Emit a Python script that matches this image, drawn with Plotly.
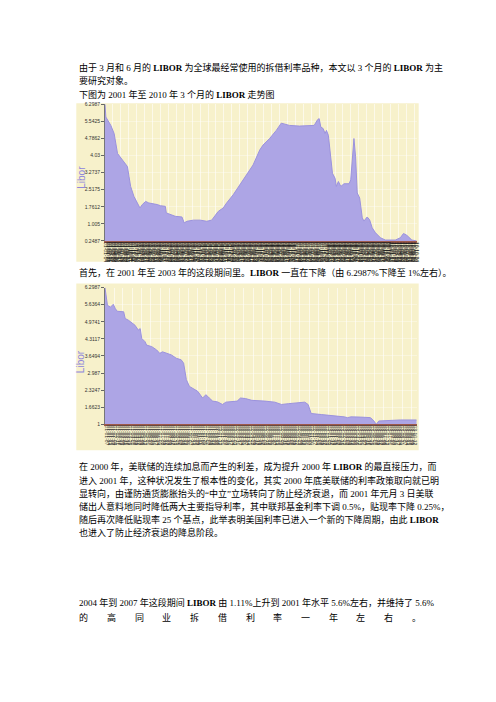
import plotly.graph_objects as go

# ---------------- data ----------------
libor_2001_2010_dates = [
    "2001-01-02", "2001-01-12", "2001-03-10", "2001-04-17", "2001-05-26", "2001-07-22",
    "2001-09-17", "2001-10-05", "2001-10-24", "2001-12-01", "2002-01-09", "2002-02-08",
    "2002-03-07", "2002-04-14", "2002-05-21", "2002-07-17", "2002-08-25", "2002-10-01",
    "2002-11-27", "2002-12-08", "2003-01-23", "2003-03-21", "2003-06-06", "2003-07-02",
    "2003-08-02", "2003-10-16", "2004-01-01", "2004-03-17", "2004-05-13", "2004-06-20",
    "2004-07-28", "2004-09-23", "2004-11-01", "2005-01-15", "2005-04-01", "2005-06-17",
    "2005-09-01", "2005-11-16", "2005-12-24", "2006-03-10", "2006-05-26", "2006-07-22",
    "2006-08-28", "2006-10-24", "2007-02-15", "2007-06-09", "2007-08-05", "2007-09-12",
    "2007-10-01", "2007-10-20", "2007-11-16", "2007-12-08", "2007-12-24", "2008-01-15",
    "2008-02-04", "2008-03-02", "2008-04-01", "2008-04-16", "2008-05-09", "2008-06-06",
    "2008-07-13", "2008-09-09", "2008-09-28", "2008-10-16", "2008-11-04", "2008-11-23",
    "2008-12-12", "2009-01-09", "2009-02-08", "2009-02-27", "2009-04-05", "2009-05-03",
    "2009-06-02", "2009-07-10", "2009-09-05", "2009-11-01", "2010-02-23", "2010-04-21",
    "2010-05-28", "2010-07-05", "2010-09-01", "2010-10-27",
]
libor_2001_2010_values = [
    6.2987, 5.73, 5.36, 5.00, 4.12, 3.83,
    3.54, 3.10, 2.66, 2.22, 1.93, 1.71,
    1.86, 2.00, 1.93, 1.90, 1.86, 1.81,
    1.78, 1.49, 1.42, 1.34, 1.31, 1.05,
    1.12, 1.17, 1.17, 1.12, 1.17, 1.34,
    1.56, 1.71, 1.93, 2.29, 2.73, 3.17,
    3.61, 4.27, 4.49, 4.78, 5.14, 5.46,
    5.43, 5.36, 5.33, 5.33, 5.36, 5.61,
    5.66, 5.29, 5.22, 5.00, 5.14, 4.92,
    4.27, 3.24, 3.02, 2.66, 2.88, 2.66,
    2.78, 2.78, 2.95, 3.97, 4.78, 3.97,
    2.37, 2.15, 1.27, 1.13, 1.31, 1.19,
    0.83, 0.61, 0.39, 0.29, 0.29, 0.39,
    0.58, 0.50, 0.29, 0.2487,
]

libor_2001_2003_dates = [
    "2001-01-02", "2001-01-06", "2001-01-10", "2001-01-20", "2001-01-29", "2001-02-05",
    "2001-02-11", "2001-03-04", "2001-03-09", "2001-03-20", "2001-03-31", "2001-04-10",
    "2001-04-21", "2001-04-27", "2001-05-02", "2001-05-13", "2001-05-18", "2001-06-04",
    "2001-06-20", "2001-06-30", "2001-07-09", "2001-07-22", "2001-08-07", "2001-08-23",
    "2001-09-08", "2001-09-16", "2001-09-25", "2001-10-05", "2001-10-21", "2001-11-01",
    "2001-11-17", "2001-11-28", "2001-12-09", "2001-12-20", "2002-01-05", "2002-01-21",
    "2002-02-01", "2002-02-22", "2002-03-10", "2002-03-21", "2002-04-06", "2002-04-27",
    "2002-05-19", "2002-06-09", "2002-07-11", "2002-08-02", "2002-08-24", "2002-09-25",
    "2002-10-17", "2002-10-28", "2002-11-07", "2002-12-10", "2003-01-11", "2003-02-02",
    "2003-02-23", "2003-03-06", "2003-03-17", "2003-04-18", "2003-05-20", "2003-05-31",
    "2003-06-08", "2003-06-16", "2003-07-13", "2003-08-25", "2003-10-18",
]
libor_2001_2003_values = [
    6.2987, 6.00, 5.61, 5.54, 5.65, 5.48,
    5.38, 5.36, 5.10, 5.03, 4.91, 4.84,
    4.65, 4.71, 4.33, 4.20, 4.07, 4.01,
    3.88, 3.75, 3.81, 3.75, 3.69, 3.56,
    3.50, 3.37, 2.73, 2.47, 2.37, 2.28,
    2.02, 2.15, 2.02, 1.90, 1.87, 1.77,
    1.86, 1.87, 1.90, 2.02, 2.00, 1.93,
    1.90, 1.90, 1.86, 1.77, 1.80, 1.83,
    1.86, 1.77, 1.42, 1.38, 1.35, 1.32,
    1.29, 1.26, 1.29, 1.28, 1.26, 1.13,
    1.00, 1.13, 1.15, 1.17, 1.17,
]

chart1_ytick_values = [0.2487, 1.005, 1.7612, 2.5175, 3.2737, 4.03, 4.7862, 5.5425, 6.2987]
chart1_ytick_labels = ["0.2487", "1.005", "1.7612", "2.5175", "3.2737", "4.03", "4.7862", "5.5425", "6.2987"]
chart2_ytick_values = [1, 1.6623, 2.3247, 2.987, 3.6494, 4.3117, 4.9741, 5.6364, 6.2987]
chart2_ytick_labels = ["1", "1.6623", "2.3247", "2.987", "3.6494", "4.3117", "4.9741", "5.6364", "6.2987"]
y_axis_title = "Libor"

intro_lines = [
    "由于 3 月和 6 月的 <b>LIBOR</b> 为全球最经常使用的拆借利率品种，本文以 3 个月的 <b>LIBOR</b> 为主",
    "要研究对象。",
    "下图为 2001 年至 2010 年 3 个月的 <b>LIBOR</b> 走势图",
]
caption_line = "首先，在 2001 年至 2003 年的这段期间里。<b>LIBOR</b> 一直在下降（由 6.2987%下降至 1%左右）。"
paragraph_lines = [
    "在 2000 年，美联储的连续加息而产生的利差，成为提升 2000 年 <b>LIBOR</b> 的最直接压力，而",
    "进入 2001 年，这种状况发生了根本性的变化，其实 2000 年底美联储的利率政策取向就已明",
    "显转向，由谨防通货膨胀抬头的“中立”立场转向了防止经济衰退，而 2001 年元月 3 日美联",
    "储出人意料地同时降低两大主要指导利率，其中联邦基金利率下调 0.5%，贴现率下降 0.25%，",
    "随后再次降低贴现率 25 个基点，此举表明美国利率已进入一个新的下降周期，由此 <b>LIBOR</b>",
    "也进入了防止经济衰退的降息阶段。",
]
last_line = "2004 年到 2007 年这段期间 <b>LIBOR</b> 由 1.11%上升到 2001 年水平 5.6%左右，并维持了 5.6%"
justified_chars = list("的高同业拆借利率一年左右。")

# ---------------- geometry helpers (page pixels -> paper) ----------------
W, H, OFF = 480, 686, 8


def fx(x):
    return (x - OFF) / W


def fy(y):
    return 1 - (y - OFF) / H


BEIGE = "#F7F1CB"
AREA = "#ADA5E5"
AREA_LINE = "#9B92DD"
AXIS_RED = "#9E5A4C"
TEXT_FONT = "Liberation Serif, Noto Sans CJK SC, sans-serif"

fig = go.Figure()

# chart 1 (2001-2010)
fig.add_trace(go.Scatter(x=libor_2001_2010_dates, y=libor_2001_2010_values, mode="lines",
                         fill="tozeroy", fillcolor=AREA, line=dict(color=AREA_LINE, width=1),
                         xaxis="x", yaxis="y", hoverinfo="skip", showlegend=False))
fig.add_trace(go.Scatter(x=libor_2001_2010_dates, y=libor_2001_2010_values, mode="lines",
                         line=dict(color="rgba(0,0,0,0)", width=0),
                         xaxis="x3", yaxis="y", hoverinfo="skip", showlegend=False))
# chart 2 (2001-2003)
fig.add_trace(go.Scatter(x=libor_2001_2003_dates, y=libor_2001_2003_values, mode="lines",
                         fill="tozeroy", fillcolor=AREA, line=dict(color=AREA_LINE, width=1),
                         xaxis="x2", yaxis="y2", hoverinfo="skip", showlegend=False))
fig.add_trace(go.Scatter(x=libor_2001_2003_dates, y=libor_2001_2003_values, mode="lines",
                         line=dict(color="rgba(0,0,0,0)", width=0),
                         xaxis="x4", yaxis="y2", hoverinfo="skip", showlegend=False))

grid_white = "rgba(255,255,255,0.6)"


def main_x(domain, rng, dtick):
    return dict(domain=domain, type="date", range=rng, showgrid=True, gridcolor=grid_white,
                gridwidth=1, dtick=dtick, showticklabels=False, ticks="", zeroline=False,
                showline=True, linecolor=AXIS_RED, linewidth=2, fixedrange=True)


def label_x(over, anchor, rng, dtick, size, color):
    return dict(overlaying=over, anchor=anchor, side="bottom", type="date", range=rng,
                showgrid=False, showline=False, zeroline=False, ticks="", dtick=dtick,
                tickformat="%y-%m-%d", tickangle=90,
                tickfont=dict(size=size, color=color, family="Arial"), fixedrange=True)


def y_ax(domain, rng, vals, labels):
    return dict(domain=domain, range=rng, tickmode="array", tickvals=vals, ticktext=labels,
                ticks="outside", ticklen=3, tickcolor="#666", tickwidth=1,
                tickfont=dict(size=5, color="#333", family="Arial"),
                showline=True, linecolor="#777", linewidth=1, showgrid=True,
                gridcolor="rgba(255,255,255,0.35)", zeroline=False, fixedrange=True)


r1 = [libor_2001_2010_dates[0], libor_2001_2010_dates[-1]]
r2 = [libor_2001_2003_dates[0], libor_2001_2003_dates[-1]]
DAY = 86400000

fig.update_layout(
    width=W, height=H, margin=dict(l=0, r=0, t=0, b=0),
    paper_bgcolor="white", plot_bgcolor=BEIGE, hovermode=False,
    xaxis=main_x([fx(104), fx(419)], r1, "M3"),
    xaxis3=label_x("x", "y", r1, 14 * DAY, 5, "#1c1c1c"),
    yaxis=y_ax([fy(240), fy(102)], [0.2487, 6.2987], chart1_ytick_values, chart1_ytick_labels),
    xaxis2=main_x([fx(104), fx(419)], r2, "M1"),
    xaxis4=label_x("x2", "y2", r2, 7 * DAY, 5, "#3a3a3a"),
    yaxis2=y_ax([fy(425), fy(287)], [1, 6.2987], chart2_ytick_values, chart2_ytick_labels),
)
fig.layout.xaxis.anchor = "y"
fig.layout.xaxis2.anchor = "y2"
fig.layout.yaxis.anchor = "x"
fig.layout.yaxis2.anchor = "x2"

# beige chart boxes
for top, bottom in [(101, 261), (283, 451)]:
    fig.add_shape(type="rect", xref="paper", yref="paper", x0=fx(75), x1=fx(421),
                  y0=fy(bottom), y1=fy(top), fillcolor=BEIGE, line=dict(width=0), layer="below")

annotations = []


def add_text(txt, x, y, size=9, anchor="left"):
    annotations.append(dict(text=txt, x=fx(x), y=fy(y), xref="paper", yref="paper",
                            xanchor=anchor, yanchor="middle", showarrow=False,
                            font=dict(family=TEXT_FONT, size=size, color="#000")))


for i, line in enumerate(intro_lines):
    add_text(line, 76, 65 + 13.5 * i)
add_text(caption_line, 76, 272)
for i, line in enumerate(paragraph_lines):
    add_text(line, 76, 468 + 13.3 * i)
add_text(last_line, 76, 605)
n = len(justified_chars)
for i, ch in enumerate(justified_chars):
    add_text(ch, 76 + i * (421 - 76 - 9) / (n - 1), 620)

# y-axis titles
for yc in (176, 362):
    annotations.append(dict(text=y_axis_title, x=fx(80), y=fy(yc), xref="paper", yref="paper",
                            xanchor="center", yanchor="middle", showarrow=False, textangle=-90,
                            font=dict(family="Arial", size=10, color="#8E85DD")))

fig.update_layout(annotations=annotations)

fig.write_html("out.html", config={"displayModeBar": False, "staticPlot": True})
